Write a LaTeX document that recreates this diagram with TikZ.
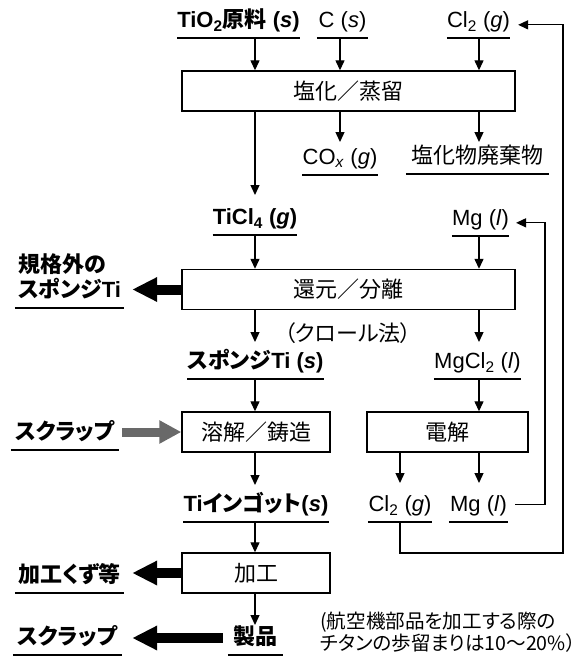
\documentclass[tikz,border=0pt]{standalone}
\usepackage{fontspec}
\setmainfont{Liberation Sans}
\newfontfamily\jp{Noto Sans CJK JP}[RawFeature=+palt]
\usetikzlibrary{arrows.meta,calc}
\newcommand\myfs{\fontsize{22}{25}\selectfont}
\definecolor{arrgray}{RGB}{105,105,105}
\begin{document}
\begin{tikzpicture}[x=1pt,y=-1pt,
  every node/.style={font=\myfs},
  procbox/.style={draw, line width=1.4pt, minimum height=40pt, inner sep=0pt, font=\jp\myfs},
  ul/.style={inner sep=0pt, anchor=south, text depth=10pt,
    append after command={\pgfextra{\draw[line width=1.4pt] (\tikzlastnode.south west) -- (\tikzlastnode.south east);}}},
  bld/.style={font=\bfseries\myfs},
  arr/.style={-{Triangle[length=10pt,width=9pt]}, line width=1.3pt},
  fat/.style={-{Triangle[length=25pt,width=23pt]}, line width=10pt},
  grayfat/.style={-{Triangle[length=22pt,width=22pt]}, line width=9pt, draw=arrgray}]
\useasboundingbox (0,0) rectangle (587,657);

% process boxes
\node[procbox, minimum width=333pt] (chl) at (348.5,91) {塩化／蒸留};
\node[procbox, minimum width=333pt] (red) at (348.5,289.5) {還元／分離};
\node[procbox, minimum width=148pt] (melt) at (256,432) {溶解／鋳造};
\node[procbox, minimum width=161pt] (elec) at (447.5,432) {電解};
\node[procbox, minimum width=148pt] (proc) at (256,573) {加工};

% labels
\node[ul, bld, minimum width=113pt] (tio2) at (238.5,38) {TiO\textsubscript{2}{\jp 原料} (\textit{s})};
\node[ul, minimum width=51pt] (cs) at (342.5,38) {C (\textit{s})};
\node[ul, minimum width=57pt] (cl2a) at (478.5,38) {Cl\textsubscript{2} (\textit{g})};
\node[ul, minimum width=62pt] (cox) at (340,175) {CO\textsubscript{\textit{x}} (\textit{g})};
\node[ul, minimum width=143pt] (waste) at (477.5,174) {\jp 塩化物廃棄物};
\node[ul, bld, minimum width=84pt] (ticl4) at (255,235) {TiCl\textsubscript{4} (\textit{g})};
\node[ul, minimum width=55pt] (mga) at (480.5,236) {Mg (\textit{l})};
\node[ul, bld, minimum width=109pt] (offspec) at (69.5,308) {\vbox{\hbox{\jp 規格外の}\hbox{{\jp スポンジ}Ti}}};
\node[ul, bld, minimum width=135pt] (sponge) at (255.5,379) {{\jp スポンジ}Ti (\textit{s})};
\node[ul, minimum width=87pt] (mgcl2) at (477.5,379) {MgCl\textsubscript{2} (\textit{l})};
\node[ul, bld, minimum width=108pt] (scrap1) at (65,450) {\jp スクラップ};
\node[ul, bld, minimum width=138pt] (ingot) at (256,522) {Ti{\jp インゴット}(\textit{s})};
\node[ul, minimum width=64pt] (cl2b) at (400,522) {Cl\textsubscript{2} (\textit{g})};
\node[ul, minimum width=59pt] (mgb) at (478.5,522) {Mg (\textit{l})};
\node[ul, bld, minimum width=109pt] (kuzu) at (69.5,593) {\jp 加工くず等};
\node[ul, bld, minimum width=55pt] (seihin) at (255.5,655) {\jp 製品};
\node[ul, bld, minimum width=109pt] (scrap2) at (67.5,655) {\jp スクラップ};

\node[font=\jp\myfs] (kroll) at (348,333) {（クロール法）};
\node[anchor=west, align=left, inner sep=0pt, font=\jp\fontsize{19.6}{22}\selectfont] (note) at (320,632)
  {(航空機部品を加工する際の\\チタンの歩留まりは10〜20\%）};

% columns
\coordinate (c1) at (255,0);
\coordinate (c2) at (340,0);
\coordinate (c3) at (479,0);
\coordinate (fb1) at (563,553);
\coordinate (fb2) at (545,0);

% connectors
\draw[arr] (tio2.south -| c1) -- (chl.north -| c1);
\draw[arr] (cs.south -| c2) -- (chl.north -| c2);
\draw[arr] (cl2a.south -| c3) -- (chl.north -| c3);
\draw[arr] (chl.south -| c2) -- ($(cox.south -| c2)+(0,-33)$);
\draw[arr] (chl.south -| c3) -- ($(waste.south -| c3)+(0,-32)$);
\draw[arr] (chl.south -| c1) -- ($(ticl4.south -| c1)+(0,-40)$);
\draw[arr] (ticl4.south -| c1) -- (red.north -| c1);
\draw[arr] (mga.south -| c3) -- (red.north -| c3);
\draw[fat] (red.west) -- ($(red.west -| offspec.east)+(8,0)$);
\draw[arr] (red.south -| c1) -- ($(sponge.south -| c1)+(0,-37)$);
\draw[arr] (red.south -| c3) -- ($(mgcl2.south -| c3)+(0,-37)$);
\draw[arr] (sponge.south -| c1) -- (melt.north -| c1);
\draw[arr] (mgcl2.south -| c3) -- (elec.north -| c3);
\draw[grayfat] ($(melt.west -| scrap1.east)+(3,0)$) -- (melt.west);
\draw[arr] (melt.south -| c1) -- ($(ingot.south -| c1)+(0,-37)$);
\draw[arr] (elec.south -| cl2b.south) -- ($(cl2b.south)+(0,-39)$);
\draw[arr] (elec.south -| c3) -- ($(mgb.south -| c3)+(0,-39)$);
\draw[arr] (ingot.south -| c1) -- (proc.north -| c1);
\draw[fat] (proc.west) -- ($(proc.west -| kuzu.east)+(8,0)$);
\draw[arr] (proc.south -| c1) -- ($(seihin.south -| c1)+(0,-30)$);
\draw[fat] ($(seihin.south west)+(-5,-17)$) -- ($(scrap2.south east)+(10,-17)$);

% feedback loops
\draw[arr] (cl2b.south) -- (cl2b.south |- fb1) -- (fb1) -- (fb1 |- cl2a.east) -- ($(cl2a.east)+(8,0)$);
\draw[arr] ($(mgb.east)+(7,-4)$) -- ($(mgb.east -| fb2)+(0,-4)$) -- (fb2 |- mga.east) -- ($(mga.east)+(7,0)$);
\end{tikzpicture}
\end{document}
